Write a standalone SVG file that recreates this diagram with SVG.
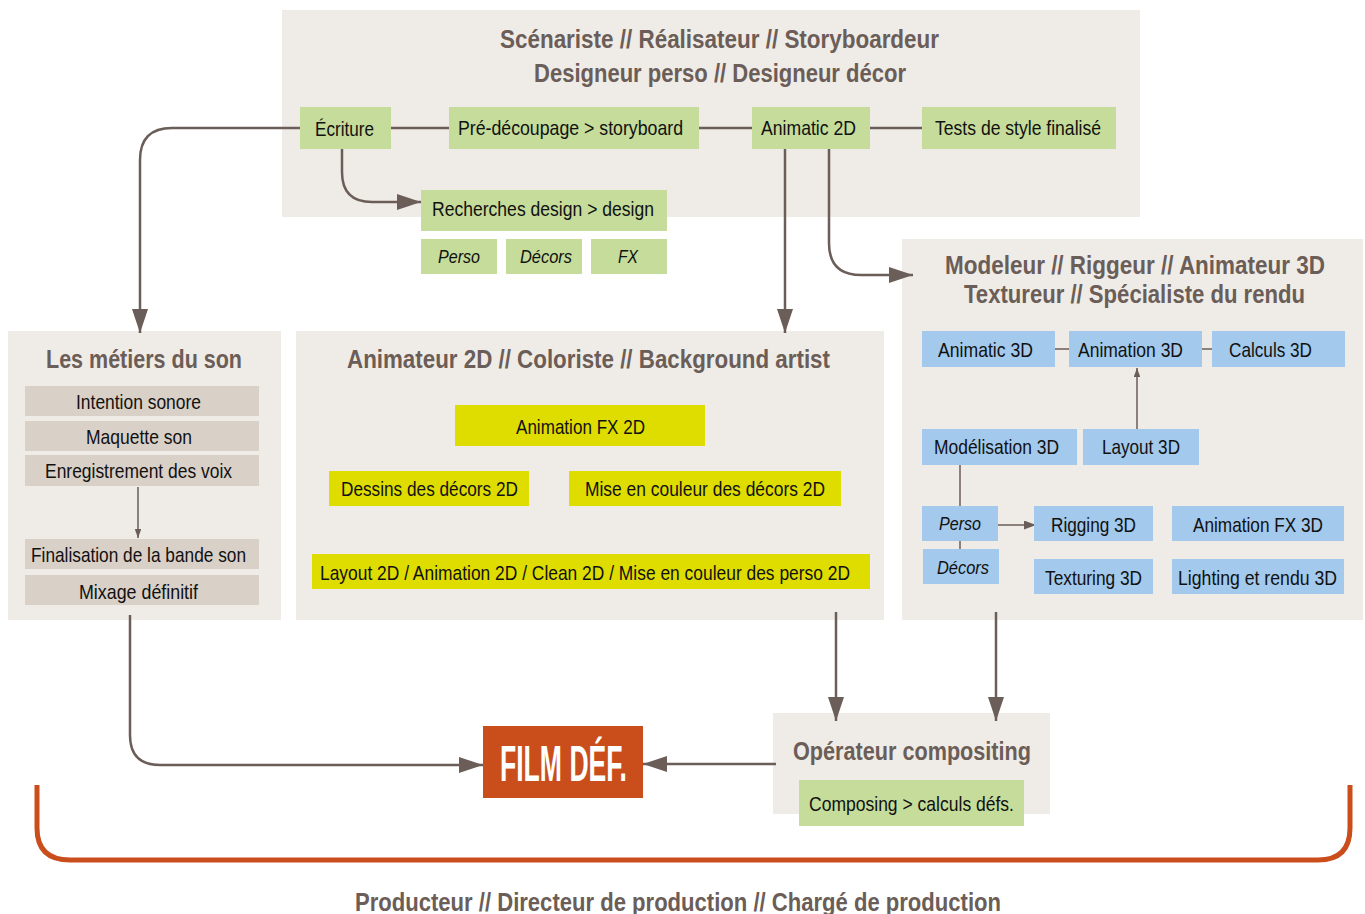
<svg xmlns="http://www.w3.org/2000/svg" width="1365" height="914" viewBox="0 0 1365 914">
<style>
.panel{fill:#efebe6}
.green{fill:#c5dc9a}
.yellow{fill:#dfdc00}
.blue{fill:#a3c9ec}
.sand{fill:#d9d0c7}
.title{font-family:"Liberation Sans",Arial,sans-serif;font-weight:bold;font-size:25px;fill:#6b5d57}
.t{font-family:"Liberation Sans",Arial,sans-serif;font-size:21px;fill:#111}
.i{font-style:italic;font-size:19px}
.film{font-family:"Liberation Sans",Arial,sans-serif;font-weight:bold;font-size:50px;fill:#fff}
.ln{fill:none;stroke:#6b5d57;stroke-width:2.5}
.thin{fill:none;stroke:#6b5d57;stroke-width:1.5}
</style>
<defs>
<marker id="ah" viewBox="0 0 10 10" refX="10" refY="5" markerWidth="9" markerHeight="6.5" markerUnits="userSpaceOnUse" orient="auto" preserveAspectRatio="none">
<path d="M0,0 L10,5 L0,10 z" fill="#6b5d57"/>
</marker>
<marker id="ahB" viewBox="0 0 10 10" refX="10" refY="5" markerWidth="24" markerHeight="16" markerUnits="userSpaceOnUse" orient="auto" preserveAspectRatio="none">
<path d="M0,0 L10,5 L0,10 z" fill="#6b5d57"/>
</marker>
<marker id="ahS" viewBox="0 0 10 10" refX="10" refY="5" markerWidth="12" markerHeight="9" markerUnits="userSpaceOnUse" orient="auto" preserveAspectRatio="none">
<path d="M0,0 L10,5 L0,10 z" fill="#6b5d57"/>
</marker>
</defs>

<g id="panel-ecriture">
<rect class="panel" x="282" y="10" width="858" height="207"/>
<text class="title" x="500" y="48" textLength="439" lengthAdjust="spacingAndGlyphs">Scénariste // Réalisateur // Storyboardeur</text>
<text class="title" x="534" y="82" textLength="372" lengthAdjust="spacingAndGlyphs">Designeur perso // Designeur décor</text>
</g>
<g id="panel-son">
<rect class="panel" x="8" y="331" width="273" height="289"/>
<text class="title" x="46" y="368" textLength="196" lengthAdjust="spacingAndGlyphs">Les métiers du son</text>
</g>
<g id="panel-2d">
<rect class="panel" x="296" y="331" width="588" height="289"/>
<text class="title" x="347" y="368" textLength="483" lengthAdjust="spacingAndGlyphs">Animateur 2D // Coloriste // Background artist</text>
</g>
<g id="panel-3d">
<rect class="panel" x="902" y="239" width="461" height="381"/>
<text class="title" x="945" y="274" textLength="380" lengthAdjust="spacingAndGlyphs">Modeleur // Riggeur // Animateur 3D</text>
<text class="title" x="964" y="303" textLength="341" lengthAdjust="spacingAndGlyphs">Textureur // Spécialiste du rendu</text>
</g>
<g id="panel-compositing">
<rect class="panel" x="773" y="713" width="277" height="101"/>
<text class="title" x="793" y="760" textLength="238" lengthAdjust="spacingAndGlyphs">Opérateur compositing</text>
</g>

<g id="connectors">
<path class="ln" d="M391,128 H449 M699,128 H752 M870,128 H922"/>
<path class="ln" d="M300,128 H172 Q140,128 140,160 V333" marker-end="url(#ahB)"/>
<path class="ln" d="M342,149 V172 Q342,202 372,202 H421" marker-end="url(#ahB)"/>
<path class="ln" d="M785,149 V333" marker-end="url(#ahB)"/>
<path class="ln" d="M829,149 V243 Q829,275 861,275 H913" marker-end="url(#ahB)"/>
<path class="thin" d="M138,487 V538" marker-end="url(#ah)"/>
<path class="thin" d="M1055,349 H1069 M1202,349 H1212"/>
<path class="thin" d="M1137,429 V368" marker-end="url(#ah)"/>
<path class="thin" d="M960,465 V506 M960,541 V549"/>
<path class="thin" d="M997,525 H1036" marker-end="url(#ahS)"/>
<path class="ln" d="M836,612 V721" marker-end="url(#ahB)"/>
<path class="ln" d="M996,612 V721" marker-end="url(#ahB)"/>
<path class="ln" d="M776,764 H643" marker-end="url(#ahB)"/>
<path class="ln" d="M130,615 V735 Q130,765 160,765 H483" marker-end="url(#ahB)"/>
</g>

<g id="n-ecriture"><rect class="green" x="300" y="107" width="91" height="42"/><text class="t" x="315" y="136" textLength="59" lengthAdjust="spacingAndGlyphs">Écriture</text></g>
<g id="n-predecoupage"><rect class="green" x="449" y="107" width="250" height="42"/><text class="t" x="458" y="135" textLength="225" lengthAdjust="spacingAndGlyphs">Pré-découpage &gt; storyboard</text></g>
<g id="n-animatic2d"><rect class="green" x="752" y="107" width="118" height="42"/><text class="t" x="761" y="135" textLength="95" lengthAdjust="spacingAndGlyphs">Animatic 2D</text></g>
<g id="n-tests"><rect class="green" x="922" y="107" width="194" height="42"/><text class="t" x="935" y="135" textLength="166" lengthAdjust="spacingAndGlyphs">Tests de style finalisé</text></g>
<g id="n-recherches"><rect class="green" x="421" y="190" width="246" height="41"/><text class="t" x="432" y="216" textLength="222" lengthAdjust="spacingAndGlyphs">Recherches design &gt; design</text></g>
<g id="n-perso"><rect class="green" x="421" y="239" width="76" height="35"/><text class="t i" x="438" y="263" textLength="42" lengthAdjust="spacingAndGlyphs">Perso</text></g>
<g id="n-decors"><rect class="green" x="506" y="239" width="76" height="35"/><text class="t i" x="520" y="263" textLength="52" lengthAdjust="spacingAndGlyphs">Décors</text></g>
<g id="n-fx"><rect class="green" x="591" y="239" width="76" height="35"/><text class="t i" x="618" y="263" textLength="20" lengthAdjust="spacingAndGlyphs">FX</text></g>

<g id="n-intention"><rect class="sand" x="25" y="386" width="234" height="30"/><text class="t" x="76" y="409" textLength="125" lengthAdjust="spacingAndGlyphs">Intention sonore</text></g>
<g id="n-maquette"><rect class="sand" x="25" y="421" width="234" height="30"/><text class="t" x="86" y="444" textLength="106" lengthAdjust="spacingAndGlyphs">Maquette son</text></g>
<g id="n-enregistrement"><rect class="sand" x="25" y="455" width="234" height="31"/><text class="t" x="45" y="478" textLength="187" lengthAdjust="spacingAndGlyphs">Enregistrement des voix</text></g>
<g id="n-finalisation"><rect class="sand" x="25" y="539" width="234" height="30"/><text class="t" x="31" y="562" textLength="215" lengthAdjust="spacingAndGlyphs">Finalisation de la bande son</text></g>
<g id="n-mixage"><rect class="sand" x="25" y="575" width="234" height="30"/><text class="t" x="79" y="599" textLength="119" lengthAdjust="spacingAndGlyphs">Mixage définitif</text></g>

<g id="n-animfx2d"><rect class="yellow" x="455" y="405" width="250" height="41"/><text class="t" x="516" y="434" textLength="129" lengthAdjust="spacingAndGlyphs">Animation FX 2D</text></g>
<g id="n-dessins"><rect class="yellow" x="329" y="471" width="200" height="35"/><text class="t" x="341" y="496" textLength="177" lengthAdjust="spacingAndGlyphs">Dessins des décors 2D</text></g>
<g id="n-misecouleur"><rect class="yellow" x="569" y="471" width="272" height="35"/><text class="t" x="585" y="496" textLength="240" lengthAdjust="spacingAndGlyphs">Mise en couleur des décors 2D</text></g>
<g id="n-layout2d"><rect class="yellow" x="312" y="554" width="558" height="35"/><text class="t" x="320" y="580" textLength="530" lengthAdjust="spacingAndGlyphs">Layout 2D / Animation 2D / Clean 2D / Mise en couleur des perso 2D</text></g>

<g id="n-animatic3d"><rect class="blue" x="922" y="331" width="133" height="36"/><text class="t" x="938" y="357" textLength="95" lengthAdjust="spacingAndGlyphs">Animatic 3D</text></g>
<g id="n-animation3d"><rect class="blue" x="1069" y="331" width="133" height="36"/><text class="t" x="1078" y="357" textLength="105" lengthAdjust="spacingAndGlyphs">Animation 3D</text></g>
<g id="n-calculs3d"><rect class="blue" x="1212" y="331" width="133" height="36"/><text class="t" x="1229" y="357" textLength="83" lengthAdjust="spacingAndGlyphs">Calculs 3D</text></g>
<g id="n-modelisation"><rect class="blue" x="922" y="429" width="155" height="36"/><text class="t" x="934" y="454" textLength="125" lengthAdjust="spacingAndGlyphs">Modélisation 3D</text></g>
<g id="n-layout3d"><rect class="blue" x="1083" y="429" width="116" height="36"/><text class="t" x="1102" y="454" textLength="78" lengthAdjust="spacingAndGlyphs">Layout 3D</text></g>
<g id="n-perso3d"><rect class="blue" x="922" y="506" width="76" height="35"/><text class="t i" x="939" y="530" textLength="42" lengthAdjust="spacingAndGlyphs">Perso</text></g>
<g id="n-decors3d"><rect class="blue" x="923" y="549" width="76" height="35"/><text class="t i" x="937" y="574" textLength="52" lengthAdjust="spacingAndGlyphs">Décors</text></g>
<g id="n-rigging"><rect class="blue" x="1034" y="506" width="119" height="35"/><text class="t" x="1051" y="532" textLength="85" lengthAdjust="spacingAndGlyphs">Rigging 3D</text></g>
<g id="n-animfx3d"><rect class="blue" x="1172" y="506" width="172" height="35"/><text class="t" x="1193" y="532" textLength="130" lengthAdjust="spacingAndGlyphs">Animation FX 3D</text></g>
<g id="n-texturing"><rect class="blue" x="1034" y="559" width="119" height="35"/><text class="t" x="1045" y="585" textLength="97" lengthAdjust="spacingAndGlyphs">Texturing 3D</text></g>
<g id="n-lighting"><rect class="blue" x="1172" y="559" width="172" height="35"/><text class="t" x="1178" y="585" textLength="159" lengthAdjust="spacingAndGlyphs">Lighting et rendu 3D</text></g>

<g id="n-composing"><rect class="green" x="799" y="780" width="225" height="46"/><text class="t" x="809" y="811" textLength="205" lengthAdjust="spacingAndGlyphs">Composing &gt; calculs défs.</text></g>

<g id="n-film"><rect fill="#c94e1c" x="483" y="726" width="160" height="72"/><text class="film" x="500" y="781" textLength="127" lengthAdjust="spacingAndGlyphs">FILM DÉF.</text></g>

<g id="production">
<path d="M37,785 V828 Q37,860 70,860 H1318 Q1350,860 1350,828 V785" fill="none" stroke="#c94e1c" stroke-width="5"/>
<text class="title" x="355" y="911" textLength="646" lengthAdjust="spacingAndGlyphs">Producteur // Directeur de production // Chargé de production</text>
</g>
</svg>
